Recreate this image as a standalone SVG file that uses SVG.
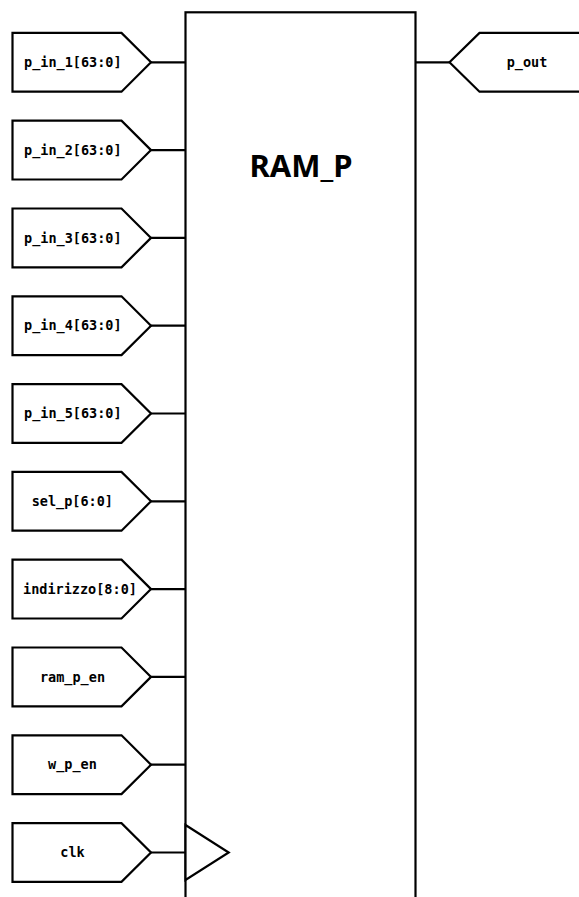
<svg xmlns="http://www.w3.org/2000/svg" width="579" height="897" viewBox="0 0 579 897">
<style>
.pin{fill:#fff;stroke:#000;stroke-width:2.2;stroke-linejoin:miter}
.w{stroke:#000;stroke-width:2.2;fill:none}
.lbl{font-family:"DejaVu Sans Mono",monospace;font-weight:bold;font-size:13.5px;fill:#000;text-anchor:middle}
.title{font-family:"Noto Sans","DejaVu Sans",sans-serif;font-weight:bold;font-size:31px;fill:#000;text-anchor:middle}
</style>
<rect width="579" height="897" fill="#fff"/>
<g id="block">
<rect x="185.5" y="12.3" width="230" height="900" fill="#fff" stroke="#000" stroke-width="2.2"/>
<text class="title" x="301" y="176.5">RAM_P</text>
<polygon class="pin" points="185.5,825 228.7,852.5 185.5,880"/>
</g>
<g id="connectors">
<line class="w" x1="151" y1="62.3" x2="185.5" y2="62.3"/>
<line class="w" x1="151" y1="150.1" x2="185.5" y2="150.1"/>
<line class="w" x1="151" y1="237.9" x2="185.5" y2="237.9"/>
<line class="w" x1="151" y1="325.7" x2="185.5" y2="325.7"/>
<line class="w" x1="151" y1="413.5" x2="185.5" y2="413.5"/>
<line class="w" x1="151" y1="501.3" x2="185.5" y2="501.3"/>
<line class="w" x1="151" y1="589.1" x2="185.5" y2="589.1"/>
<line class="w" x1="151" y1="676.9" x2="185.5" y2="676.9"/>
<line class="w" x1="151" y1="764.7" x2="185.5" y2="764.7"/>
<line class="w" x1="151" y1="852.5" x2="185.5" y2="852.5"/>
<line class="w" x1="415.5" y1="62.3" x2="449.5" y2="62.3"/>
</g>
<g id="p_in_1" transform="translate(0,62.3)"><polygon class="pin" points="12.5,-29.4 121.5,-29.4 151,0 121.5,29.4 12.5,29.4"/><text class="lbl" x="72.8" y="4.6">p_in_1[63:0]</text></g>
<g id="p_in_2" transform="translate(0,150.1)"><polygon class="pin" points="12.5,-29.4 121.5,-29.4 151,0 121.5,29.4 12.5,29.4"/><text class="lbl" x="72.8" y="4.6">p_in_2[63:0]</text></g>
<g id="p_in_3" transform="translate(0,237.9)"><polygon class="pin" points="12.5,-29.4 121.5,-29.4 151,0 121.5,29.4 12.5,29.4"/><text class="lbl" x="72.8" y="4.6">p_in_3[63:0]</text></g>
<g id="p_in_4" transform="translate(0,325.7)"><polygon class="pin" points="12.5,-29.4 121.5,-29.4 151,0 121.5,29.4 12.5,29.4"/><text class="lbl" x="72.8" y="4.6">p_in_4[63:0]</text></g>
<g id="p_in_5" transform="translate(0,413.5)"><polygon class="pin" points="12.5,-29.4 121.5,-29.4 151,0 121.5,29.4 12.5,29.4"/><text class="lbl" x="72.8" y="4.6">p_in_5[63:0]</text></g>
<g id="sel_p" transform="translate(0,501.3)"><polygon class="pin" points="12.5,-29.4 121.5,-29.4 151,0 121.5,29.4 12.5,29.4"/><text class="lbl" x="72.3" y="4.6">sel_p[6:0]</text></g>
<g id="indirizzo" transform="translate(0,589.1)"><polygon class="pin" points="12.5,-29.4 121.5,-29.4 151,0 121.5,29.4 12.5,29.4"/><text class="lbl" x="80" y="4.6">indirizzo[8:0]</text></g>
<g id="ram_p_en" transform="translate(0,676.9)"><polygon class="pin" points="12.5,-29.4 121.5,-29.4 151,0 121.5,29.4 12.5,29.4"/><text class="lbl" x="72.5" y="4.6">ram_p_en</text></g>
<g id="w_p_en" transform="translate(0,764.7)"><polygon class="pin" points="12.5,-29.4 121.5,-29.4 151,0 121.5,29.4 12.5,29.4"/><text class="lbl" x="72.5" y="4.6">w_p_en</text></g>
<g id="clk" transform="translate(0,852.5)"><polygon class="pin" points="12.5,-29.4 121.5,-29.4 151,0 121.5,29.4 12.5,29.4"/><text class="lbl" x="72.5" y="4.6">clk</text></g>
<g id="p_out" transform="translate(0,62.3)"><polygon class="pin" points="590,-29.4 479.5,-29.4 449.5,0 479.5,29.4 590,29.4"/><text class="lbl" x="527" y="4.6">p_out</text></g>
</svg>
